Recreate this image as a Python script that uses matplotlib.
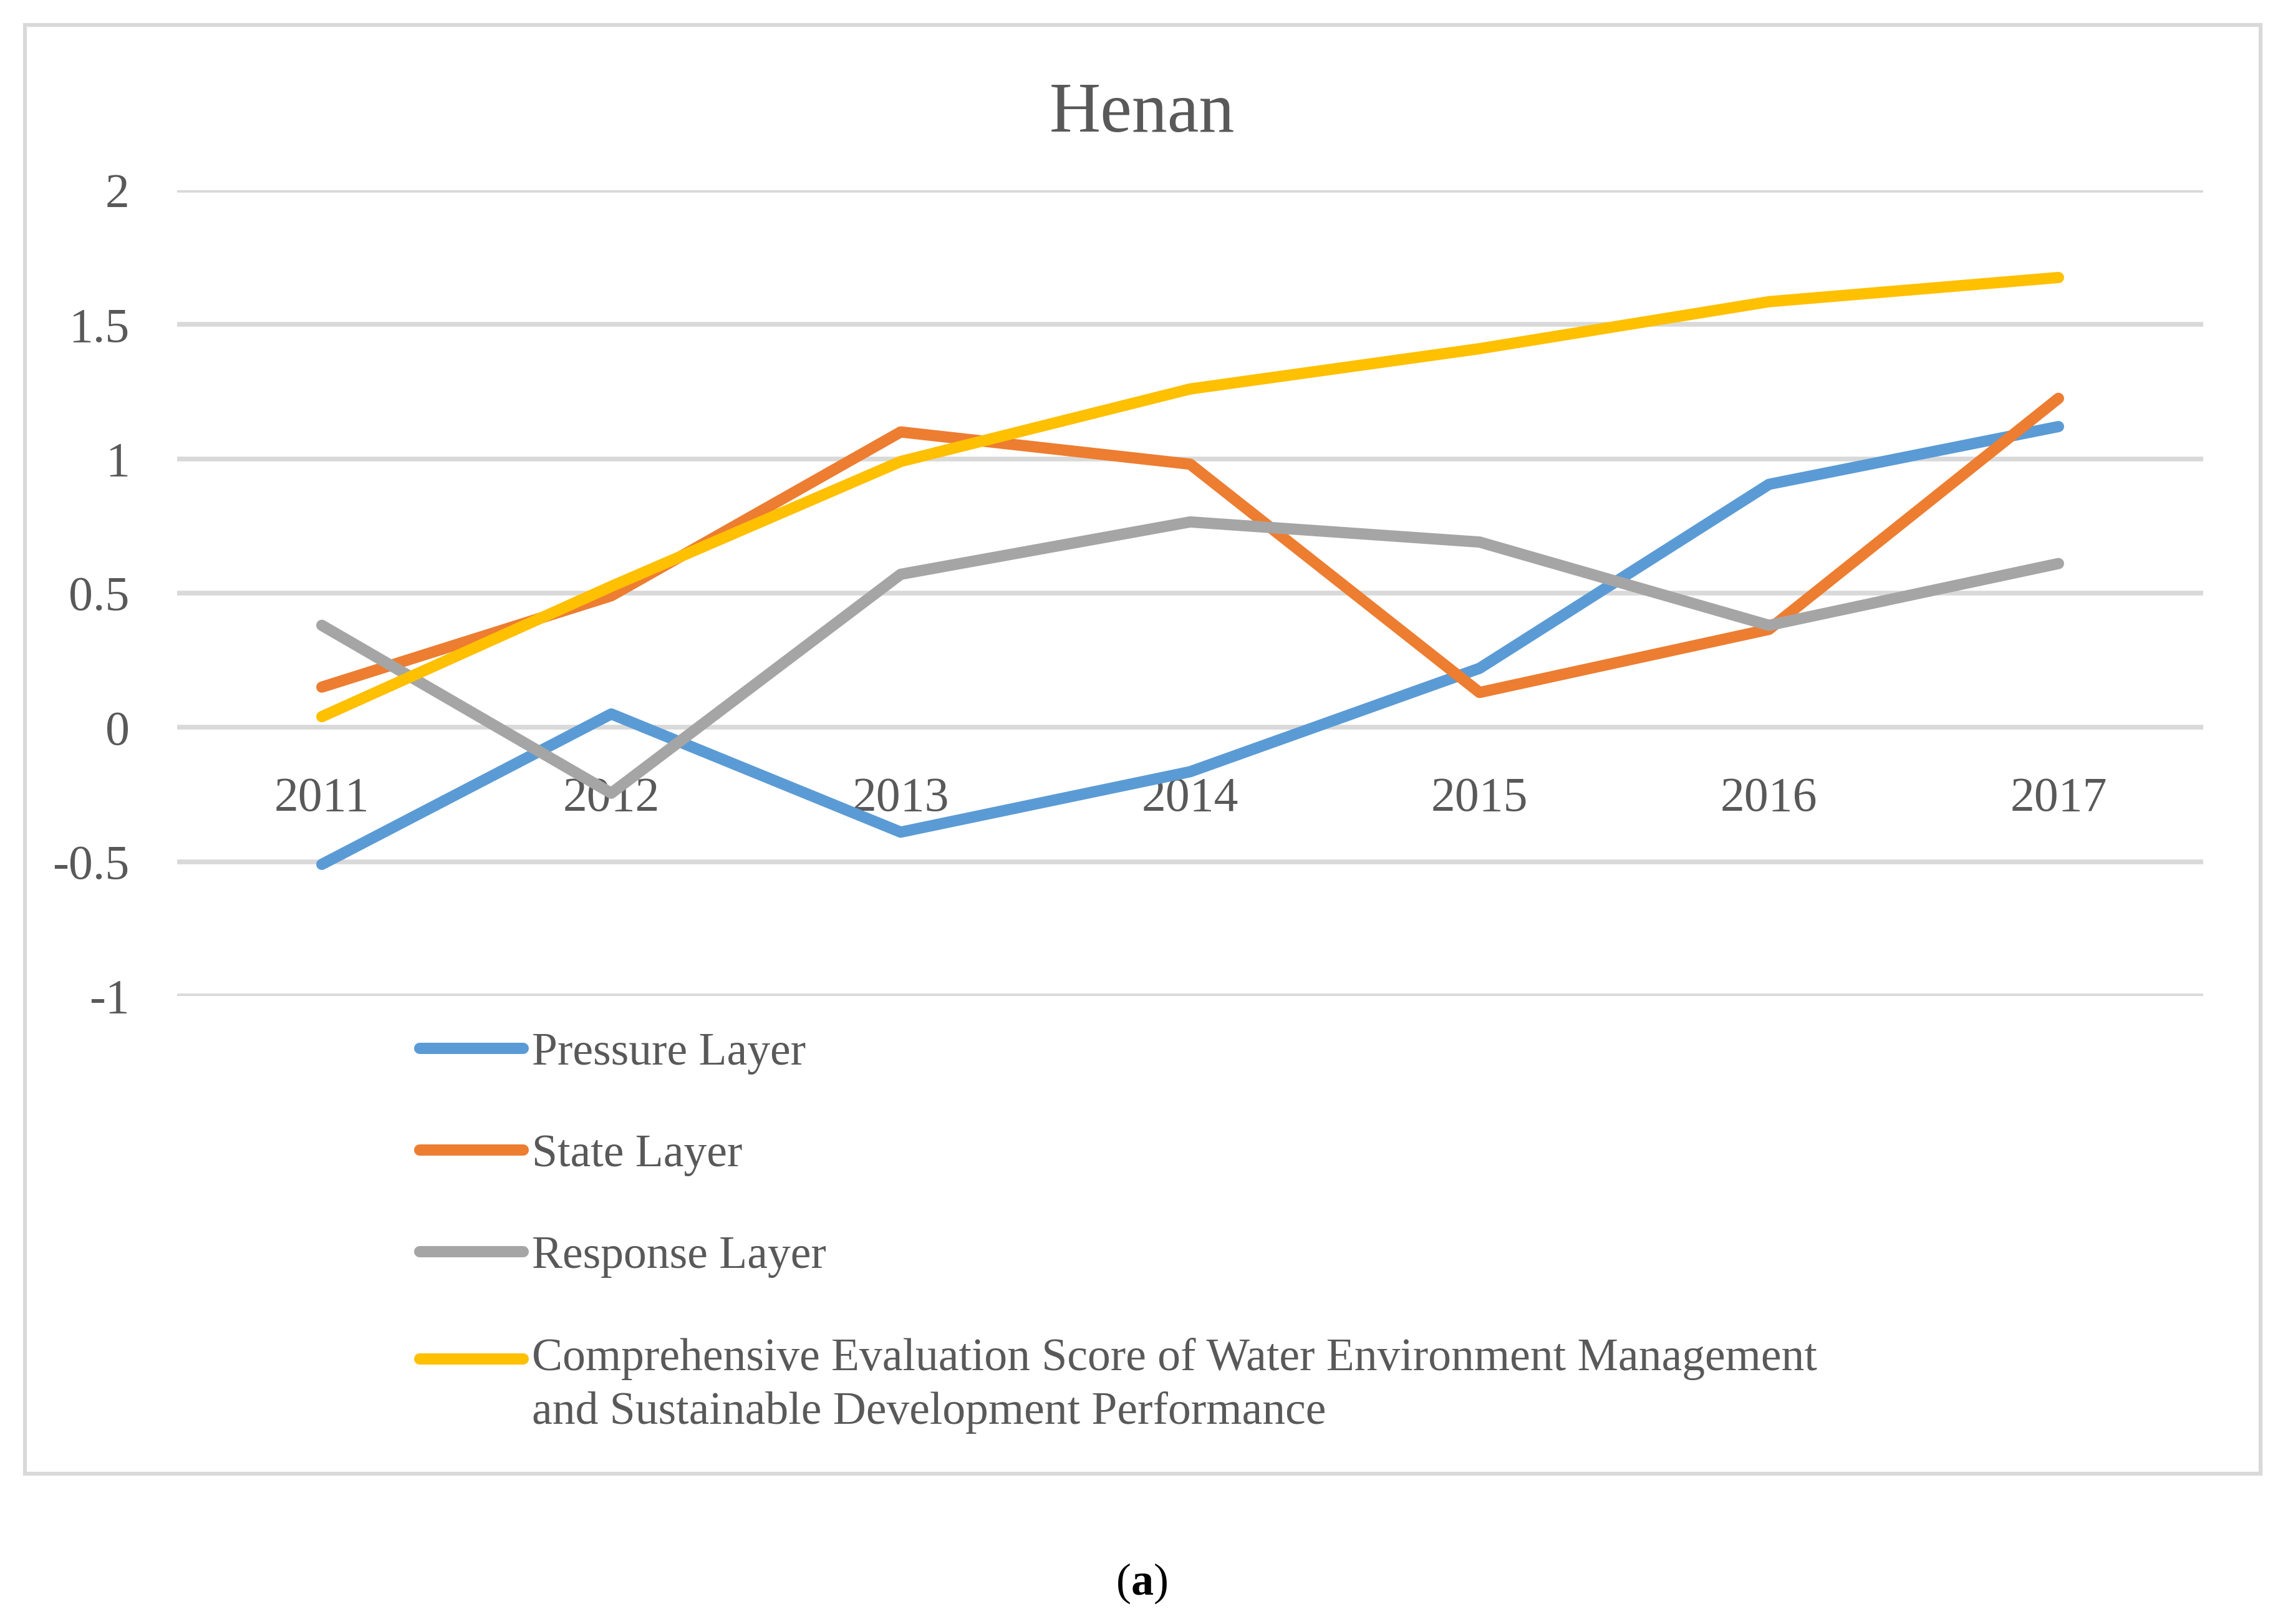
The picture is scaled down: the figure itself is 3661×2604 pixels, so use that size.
import numpy as np
import matplotlib
matplotlib.use('Agg')
from matplotlib import pyplot as plt
from matplotlib.patches import Rectangle

years = ['2011', '2012', '2013', '2014', '2015', '2016', '2017']
pressure = [-0.51, 0.05, -0.39, -0.165, 0.22, 0.905, 1.12]
state = [0.15, 0.49, 1.10, 0.98, 0.13, 0.365, 1.225]
response = [0.38, -0.245, 0.57, 0.765, 0.69, 0.38, 0.61]
comprehensive = [0.04, 0.525, 0.99, 1.26, 1.41, 1.585, 1.675]

series_names = ['Pressure Layer', 'State Layer', 'Response Layer',
                'Comprehensive Evaluation Score of Water Environment Management\n'
                'and Sustainable Development Performance']
colors = ['#5B9BD5', '#ED7D31', '#A5A5A5', '#FFC000']

plt.rcParams['font.family'] = ['Liberation Serif', 'DejaVu Serif']
plt.rcParams['mathtext.fontset'] = 'custom'
plt.rcParams['mathtext.rm'] = 'Liberation Serif'
plt.rcParams['mathtext.bf'] = 'Liberation Serif:bold'

W, H = 3662, 2604
fig = plt.figure(figsize=(W / 100, H / 100), dpi=100)
ax = fig.add_axes([284 / W, 1 - 1597 / H, (3533 - 284) / W, (1597 - 305) / H])

x = np.arange(len(years))
for vals, name, c in zip([pressure, state, response, comprehensive], series_names, colors):
    ax.plot(x, vals, color=c, lw=13, solid_capstyle='round', solid_joinstyle='round',
            label=name, zorder=3)

ax.set_xlim(-0.5, len(years) - 0.5)
ax.set_ylim(-1, 2)
ax.set_yticks(np.arange(-1, 2.01, 0.5))
ax.set_yticklabels(['-1', '-0.5', '0', '0.5', '1', '1.5', '2'])
ax.set_xticks(x)
ax.set_xticklabels(years)
ax.grid(axis='y', color='#D9D9D9', lw=5.5)
ax.set_axisbelow(True)
for s in ax.spines.values():
    s.set_visible(False)
# category labels sit just under the zero line, like Excel
ax.spines['bottom'].set_position(('data', 0))
ax.tick_params(axis='x', length=0, pad=57, labelsize=56, labelcolor='#595959')
ax.tick_params(axis='y', length=0, pad=55, labelsize=56, labelcolor='#595959')

ax.set_title('Henan', fontsize=82, color='#595959', pad=68,
             x=(1831 - 284) / (3533 - 284))

leg = ax.legend(loc='upper left', bbox_to_anchor=(673 / W, 1 - 1655 / H),
                bbox_transform=fig.transFigure, frameon=False, fontsize=53,
                handlelength=2.26, handletextpad=0.19, labelspacing=1.3,
                borderpad=0, borderaxespad=0)
for t in leg.get_texts():
    t.set_color('#595959')
    t.set_linespacing(1.36)
# put the last handle next to the first line of its two-line label
hl = leg.legend_handles[3]
hl.set_ydata(np.asarray(hl.get_ydata()) + 31)

fig.patches.append(Rectangle((40 / W, 1 - 2363 / H), (3625 - 40) / W, (2363 - 40) / H,
                             transform=fig.transFigure, fill=False,
                             edgecolor='#D9D9D9', lw=4.5))

fig.text(0.5, 1 - 2539 / H, r'($\mathbf{a}$)', ha='center', va='center', fontsize=52,
         color='black')

plt.savefig('out.png', dpi=100)
